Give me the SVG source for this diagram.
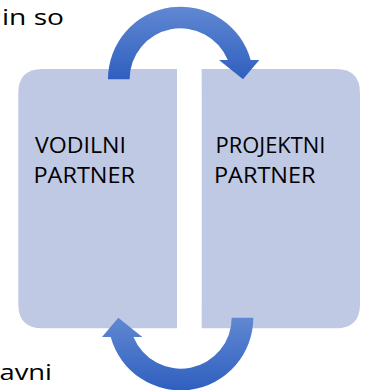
<svg xmlns="http://www.w3.org/2000/svg" width="367" height="390" viewBox="0 0 367 390">
<style>
.box{fill:#bfc9e3}
.lbl{font-family:"Open Sans","Liberation Sans",sans-serif;font-size:21px;fill:#000}
.frag{font-family:"Open Sans","Liberation Sans",sans-serif;font-size:22px;fill:#000}
</style>
<defs>
<linearGradient id="g1" x1="0" y1="0" x2="0" y2="1">
<stop offset="0" stop-color="#6088d2"/>
<stop offset="1" stop-color="#2f5fbf"/>
</linearGradient>
</defs>
<rect width="367" height="390" fill="#fff"/>
<g id="node-vodilni">
<path class="box" d="M177,69 L177,328.3 L42.3,328.3 Q18.3,328.3 18.3,304.3 L18.3,93 Q18.3,69 42.3,69 Z"/>
<text class="lbl" x="35" y="153" textLength="91" lengthAdjust="spacingAndGlyphs">VODILNI</text>
<text class="lbl" x="33.5" y="183" textLength="101.5" lengthAdjust="spacingAndGlyphs">PARTNER</text>
</g>
<g id="node-projektni">
<path class="box" d="M201.7,69 L336,69 Q360,69 360,93 L360,304.3 Q360,328.3 336,328.3 L201.7,328.3 Z"/>
<text class="lbl" x="215.5" y="153" textLength="110" lengthAdjust="spacingAndGlyphs">PROJEKTNI</text>
<text class="lbl" x="214" y="183" textLength="101.5" lengthAdjust="spacingAndGlyphs">PARTNER</text>
</g>
<g id="connectors">
<path fill="url(#g1)" d="M108,79.3 A72.6,72.6 0 0 1 250.6,60 L259.3,60 L243,79.3 L219,60 L227.8,60 A51,51 0 0 0 129.6,79.3 Z"/>
<path fill="url(#g1)" d="M253.3,317.7 A72.6,72.6 0 0 1 110.7,337 L102,337 L118.3,317.7 L142.3,337 L133.5,337 A51,51 0 0 0 231.7,317.7 Z"/>
</g>
<text class="frag" x="2" y="25" textLength="62" lengthAdjust="spacingAndGlyphs">in so</text>
<text class="frag" x="-0.5" y="380" textLength="52.5" lengthAdjust="spacingAndGlyphs">avni</text>
</svg>
